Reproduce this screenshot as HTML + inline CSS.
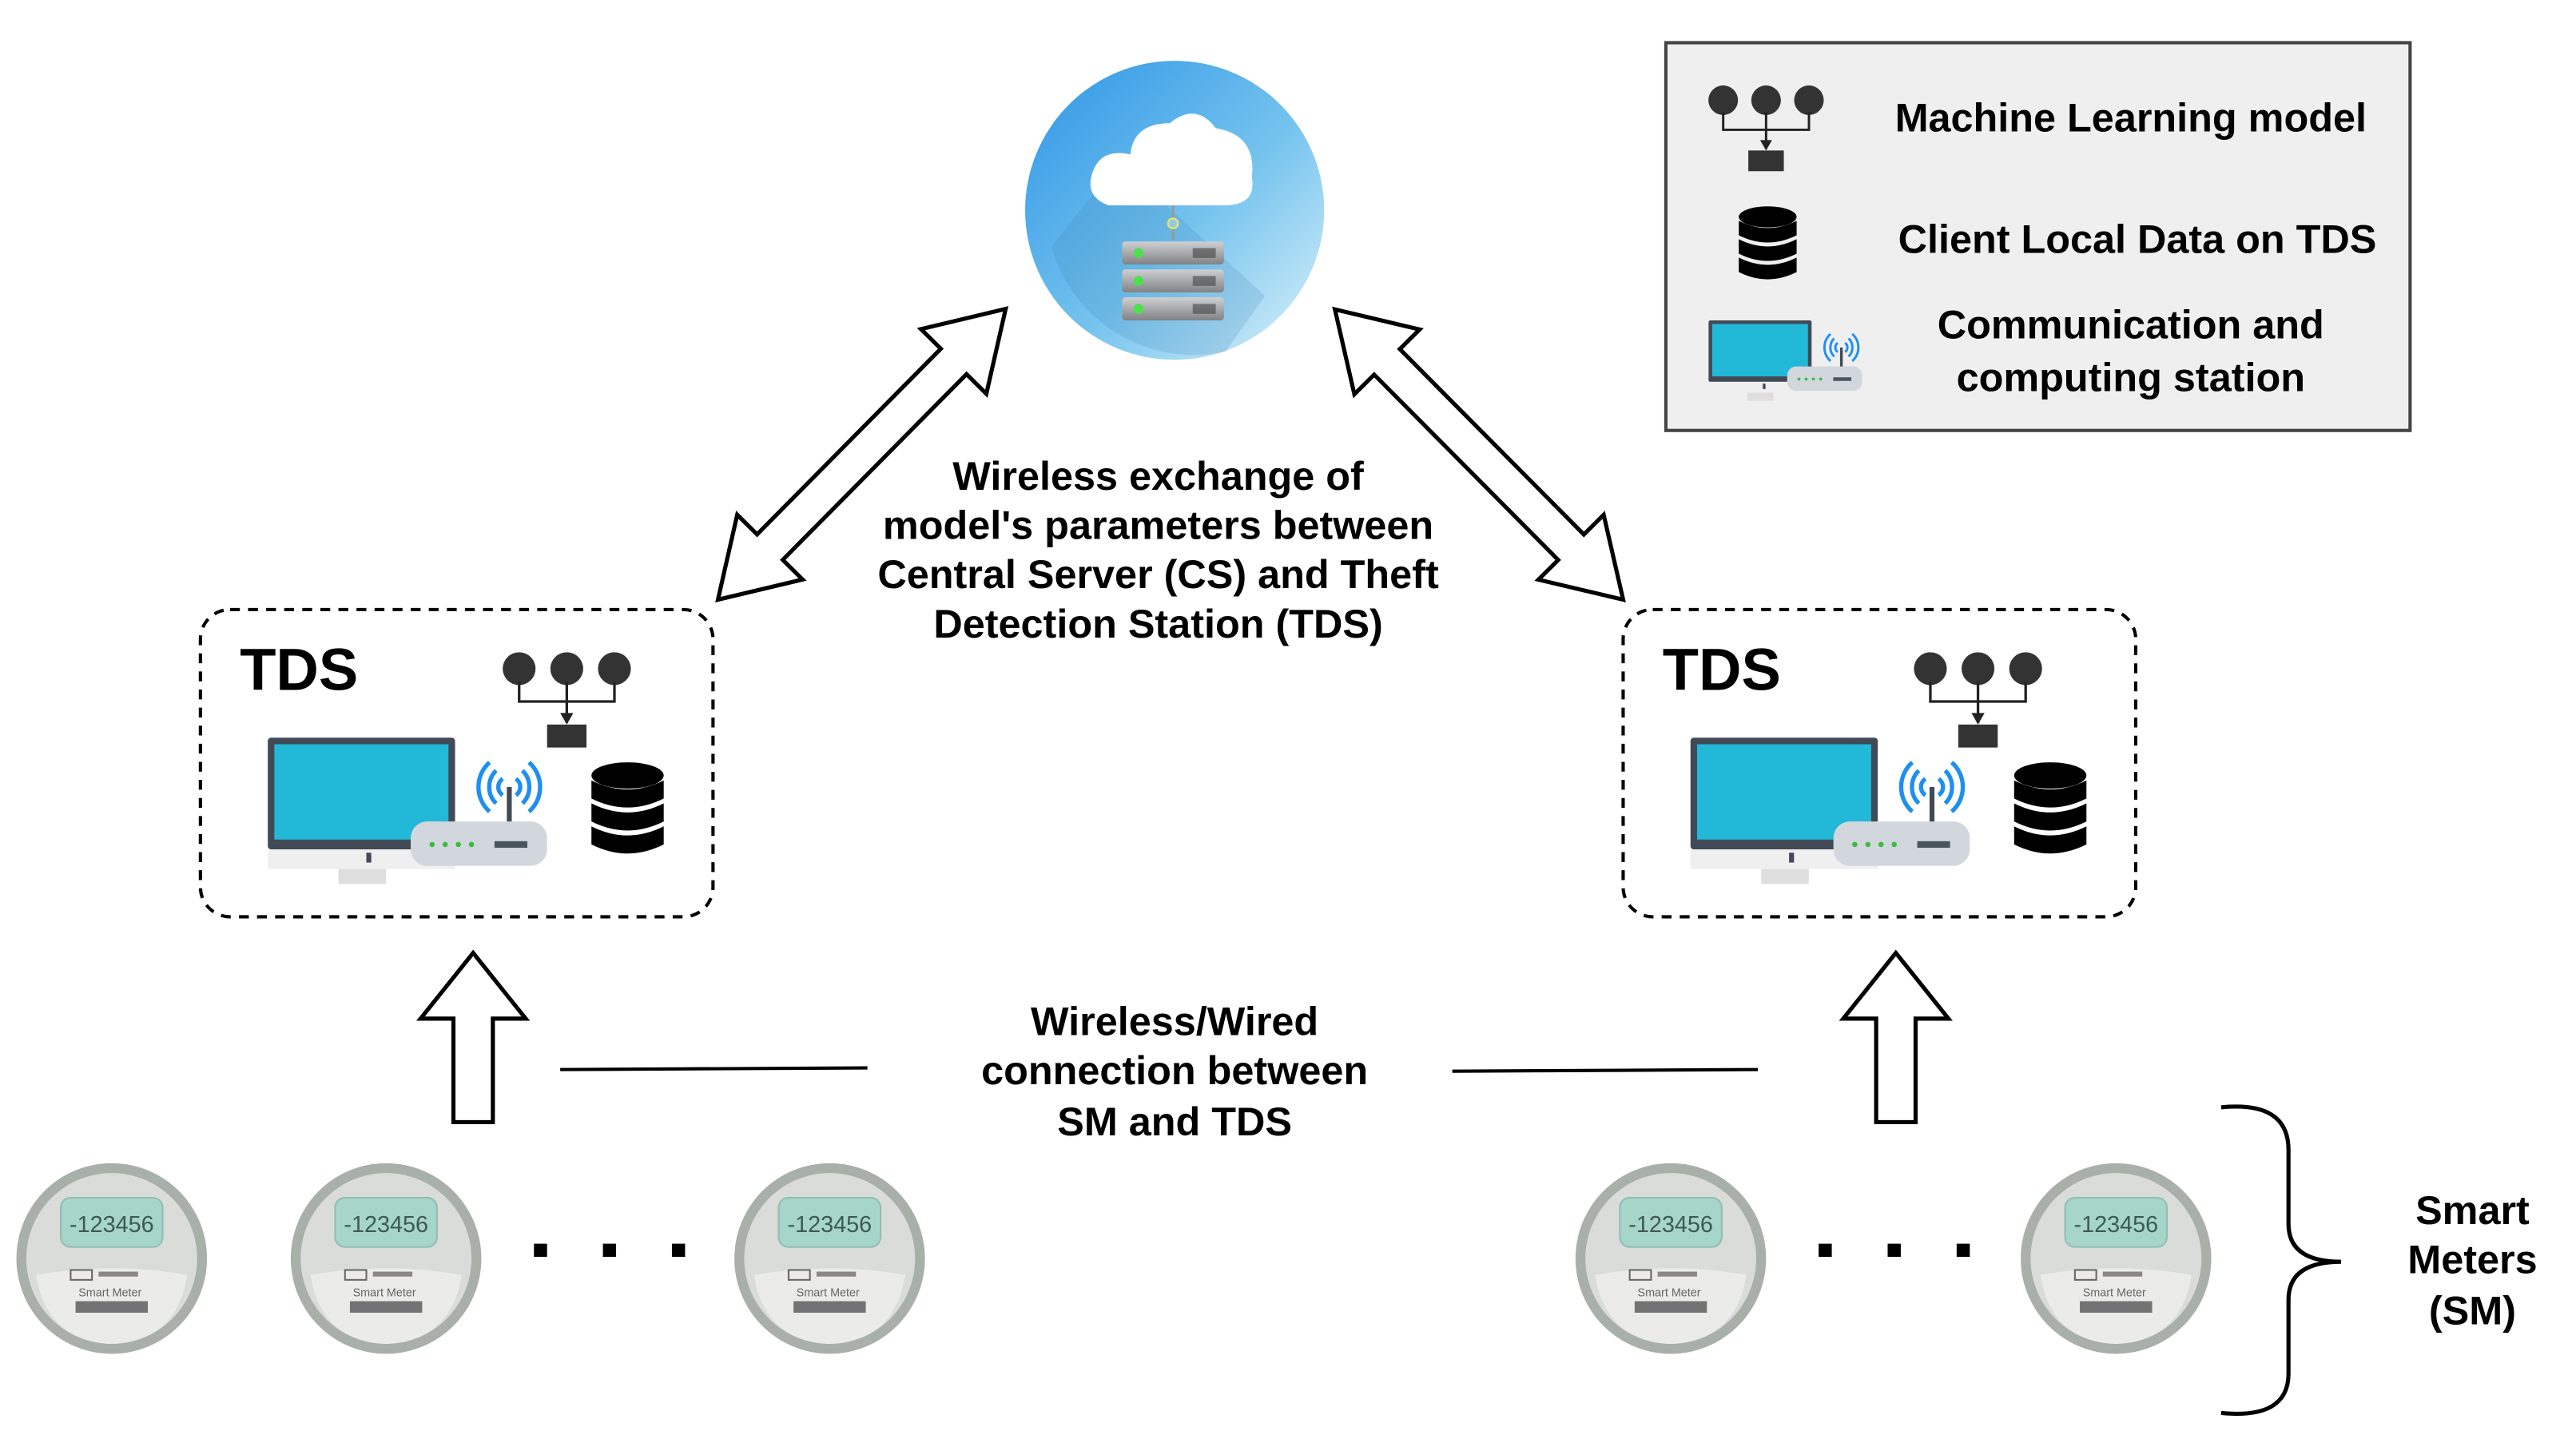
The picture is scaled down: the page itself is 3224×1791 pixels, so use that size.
<!DOCTYPE html>
<html><head><meta charset="utf-8"><style>
html,body{margin:0;padding:0;background:#fff;}
svg{display:block;}
text{font-family:"Liberation Sans",Arial,sans-serif;font-weight:bold;fill:#000;}
</style></head><body>
<svg width="3224" height="1791" viewBox="0 0 1568 871" preserveAspectRatio="none" xmlns="http://www.w3.org/2000/svg">
<defs>
<linearGradient id="cg" x1="0" y1="0" x2="1" y2="1">
<stop offset="0" stop-color="#2f95e6"/><stop offset="0.55" stop-color="#74c3ee"/><stop offset="1" stop-color="#def3fb"/>
</linearGradient>
<linearGradient id="sv" x1="0" y1="0" x2="0" y2="1">
<stop offset="0" stop-color="#cfd0d2"/><stop offset="1" stop-color="#808285"/>
</linearGradient>
<g id="ml">
<circle cx="-29" cy="0" r="10" fill="#333"/><circle cx="0" cy="0" r="10" fill="#333"/><circle cx="29" cy="0" r="10" fill="#333"/>
<path d="M-29 8 V20 H29 V8 M0 8 V33" stroke="#222" stroke-width="1.6" fill="none"/>
<path d="M-4 27 L0 34 L4 27Z" fill="#222"/>
<rect x="-12" y="34" width="24" height="14" fill="#333"/>
</g>
<g id="db">
<ellipse cx="0" cy="0" rx="22" ry="8" fill="#000"/>
<path d="M-22 3 Q0 14 22 3 V14 Q0 25 -22 14Z" fill="#000"/>
<path d="M-22 17 Q0 28 22 17 V28 Q0 39 -22 28Z" fill="#000"/>
<path d="M-22 31 Q0 42 22 31 V42 Q0 53 -22 42Z" fill="#000"/>
</g>
<g id="st">
<rect x="0" y="0" width="114" height="68" rx="2" fill="#414a56"/>
<rect x="4" y="4" width="106" height="58" fill="#22b8d7"/>
<rect x="0" y="68" width="114" height="12" fill="#efefef"/>
<rect x="43" y="80" width="29" height="9" fill="#dedede"/>
<rect x="60" y="70" width="3" height="6" fill="#414a56"/>
<path d="M139 20 A14 14 0 0 0 139 40 M135 15 A20 20 0 0 0 135 45 M155 20 A14 14 0 0 1 155 40 M159 15 A20 20 0 0 1 159 45 M143 25 A6 6 0 0 0 143 35 M151 25 A6 6 0 0 1 151 35" stroke="#1e8ff0" stroke-width="2.6" fill="none"/>
<path d="M147 30 V52" stroke="#414a56" stroke-width="3"/>
<rect x="87" y="51" width="83" height="27" rx="10" fill="#d1d7dc"/>
<circle cx="100" cy="65" r="1.6" fill="#3dbb3d"/><circle cx="108" cy="65" r="1.6" fill="#3dbb3d"/><circle cx="116" cy="65" r="1.6" fill="#3dbb3d"/><circle cx="124" cy="65" r="1.6" fill="#3dbb3d"/>
<rect x="138" y="63" width="20" height="4" fill="#4a5560"/>
</g>
<g id="meter">
<ellipse cx="0" cy="0" rx="58" ry="58" fill="#a9afa9"/>
<ellipse cx="0" cy="0" rx="52" ry="52" fill="#d9dcd9"/>
<path d="M-46 10 Q0 2 46 10 Q40 50 0 52 Q-40 50 -46 10Z" fill="#ebecea"/>
<rect x="-31" y="-37" width="62" height="30" rx="6" fill="#a6d5c9" stroke="#94bdb2"/>
<text x="0" y="-16" font-size="14" text-anchor="middle" style="font-weight:normal;fill:#3d5a52;">-123456</text>
<rect x="-25" y="7" width="13" height="6" fill="none" stroke="#666" stroke-width="1"/>
<rect x="-8" y="8" width="24" height="3" fill="#888"/>
<text x="-1" y="23" font-size="7" text-anchor="middle" style="font-weight:normal;fill:#666;">Smart Meter</text>
<rect x="-22" y="26" width="44" height="7" fill="#555" opacity="0.8"/>
</g>
</defs>

<!-- legend -->
<rect x="1014" y="26" width="453" height="236" fill="#efefef" stroke="#444" stroke-width="2"/>
<g transform="translate(1075,61) scale(0.9)"><use href="#ml"/></g>
<g transform="translate(1076,132) scale(0.8)"><use href="#db"/></g>
<g transform="translate(1040,195) scale(0.55)"><use href="#st"/></g>
<text x="1297" y="80" font-size="24.5" text-anchor="middle">Machine Learning model</text>
<text x="1301" y="154" font-size="24.5" text-anchor="middle">Client Local Data on TDS</text>
<text x="1297" y="206" font-size="24.5" text-anchor="middle">Communication and</text>
<text x="1297" y="238" font-size="24.5" text-anchor="middle">computing station</text>

<!-- cloud server -->
<circle cx="715" cy="128" r="91" fill="url(#cg)"/>
<path d="M667 116 L640 150 A90 90 0 0 0 746 214 L770 180 L700 116Z" fill="#3a7fb0" opacity="0.18"/>
<path d="M675 125 Q660 120 665 105 Q670 90 688 94 Q690 75 712 75 Q728 62 740 78 Q765 82 762 108 Q765 125 745 125Z" fill="#fff"/>
<line x1="714" y1="125" x2="714" y2="146" stroke="#999" stroke-width="1.5"/>
<circle cx="714" cy="136" r="3" fill="#8ecbea" stroke="#e8e070" stroke-width="1.2"/>
<rect x="683" y="147" width="62" height="14" rx="2" fill="url(#sv)"/>
<rect x="683" y="164" width="62" height="14" rx="2" fill="url(#sv)"/>
<rect x="683" y="181" width="62" height="14" rx="2" fill="url(#sv)"/>
<circle cx="693" cy="154" r="3" fill="#4de04d"/><circle cx="693" cy="171" r="3" fill="#4de04d"/><circle cx="693" cy="188" r="3" fill="#4de04d"/>
<rect x="726" y="151" width="14" height="6" fill="#444" opacity="0.6"/><rect x="726" y="168" width="14" height="6" fill="#444" opacity="0.6"/><rect x="726" y="185" width="14" height="6" fill="#444" opacity="0.6"/>

<!-- double arrows -->
<g transform="translate(437,365) rotate(-45.3)">
<polygon points="0,0 45,-28 45,-11 204,-11 204,-28 249,0 204,28 204,11 45,11 45,28" fill="#fff" stroke="#000" stroke-width="2.5"/>
</g>
<g transform="translate(988,365) rotate(-134.8)">
<polygon points="0,0 45,-28 45,-11 204,-11 204,-28 249,0 204,28 204,11 45,11 45,28" fill="#fff" stroke="#000" stroke-width="2.5"/>
</g>

<text x="705" y="298" font-size="24.5" text-anchor="middle">Wireless exchange of</text>
<text x="705" y="328" font-size="24.5" text-anchor="middle">model's parameters between</text>
<text x="705" y="358" font-size="24.5" text-anchor="middle">Central Server (CS) and Theft</text>
<text x="705" y="388" font-size="24.5" text-anchor="middle">Detection Station (TDS)</text>

<!-- TDS boxes -->
<rect x="122" y="371" width="312" height="187" rx="18" fill="none" stroke="#000" stroke-width="2" stroke-dasharray="6,5"/>
<rect x="988" y="371" width="312" height="187" rx="18" fill="none" stroke="#000" stroke-width="2" stroke-dasharray="6,5"/>
<text x="146" y="420" font-size="36">TDS</text>
<text x="1012" y="420" font-size="36">TDS</text>
<use href="#ml" x="345" y="407"/>
<use href="#ml" x="1204" y="407"/>
<use href="#st" x="163" y="449"/>
<use href="#st" x="1029" y="449"/>
<use href="#db" x="382" y="472"/>
<use href="#db" x="1248" y="472"/>

<!-- up arrows -->
<polygon points="288,580 320,620 300,620 300,683 276,683 276,620 256,620" fill="#fff" stroke="#000" stroke-width="2.5"/>
<polygon points="1154,580 1186,620 1166,620 1166,683 1142,683 1142,620 1122,620" fill="#fff" stroke="#000" stroke-width="2.5"/>

<line x1="341" y1="651" x2="528" y2="650" stroke="#000" stroke-width="2"/>
<line x1="884" y1="652" x2="1070" y2="651" stroke="#000" stroke-width="2"/>
<text x="715" y="630" font-size="24.5" text-anchor="middle">Wireless/Wired</text>
<text x="715" y="660" font-size="24.5" text-anchor="middle">connection between</text>
<text x="715" y="691" font-size="24.5" text-anchor="middle">SM and TDS</text>

<!-- meters -->
<use href="#meter" x="68" y="766"/>
<use href="#meter" x="235" y="766"/>
<use href="#meter" x="505" y="766"/>
<use href="#meter" x="1017" y="766"/>
<use href="#meter" x="1288" y="766"/>
<rect x="325" y="757" width="8" height="8" fill="#000"/><rect x="367" y="757" width="8" height="8" fill="#000"/><rect x="409" y="757" width="8" height="8" fill="#000"/>
<rect x="1107" y="757" width="8" height="8" fill="#000"/><rect x="1149" y="757" width="8" height="8" fill="#000"/><rect x="1191" y="757" width="8" height="8" fill="#000"/>

<!-- brace -->
<path d="M1352 674 Q1393 670 1393 700 V745 Q1393 768 1425 768 Q1393 768 1393 791 V836 Q1393 864 1352 860" fill="none" stroke="#000" stroke-width="2.5"/>
<text x="1505" y="745" font-size="24.5" text-anchor="middle">Smart</text>
<text x="1505" y="775" font-size="24.5" text-anchor="middle">Meters</text>
<text x="1505" y="806" font-size="24.5" text-anchor="middle">(SM)</text>
</svg>
</body></html>
